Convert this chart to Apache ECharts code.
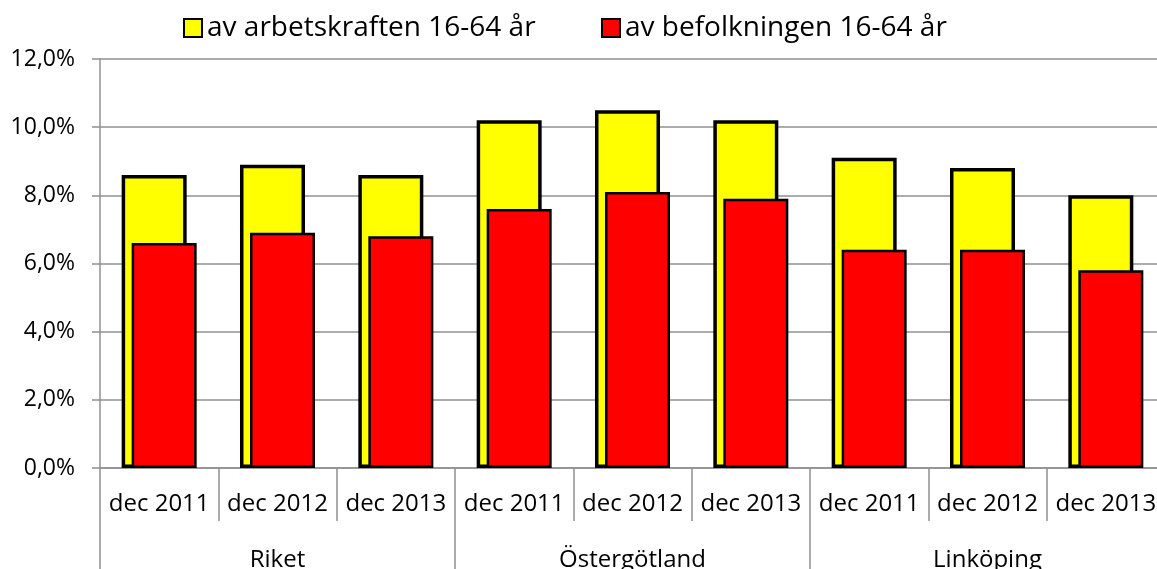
<!DOCTYPE html>
<html>
<head>
<meta charset="utf-8">
<script src="https://cdn.jsdelivr.net/npm/echarts@6/dist/echarts.min.js"></script>
<style>
html,body{margin:0;padding:0;background:#fff;}
#chart{width:1157px;height:569px;}
</style>
</head>
<body>
<div id="chart"></div>
<script>
const categories = ['dec 2011','dec 2012','dec 2013','dec 2011','dec 2012','dec 2013','dec 2011','dec 2012','dec 2013'];
const groups = ['Riket','Östergötland','Linköping'];
const arbetskraften = [8.6, 8.9, 8.6, 10.2, 10.5, 10.2, 9.1, 8.8, 8.0];
const befolkningen = [6.6, 6.9, 6.8, 7.6, 8.1, 7.9, 6.4, 6.4, 5.8];
const yTicks = { min: 0, max: 12, interval: 2 };
const seriesNames = ['av arbetskraften 16-64 år', 'av befolkningen 16-64 år'];

const FONT = 'Open Sans';
const GREY = '#909090';
const chart = echarts.init(document.getElementById('chart'), null, {renderer: 'canvas'});
chart.setOption({
  animation: false,
  backgroundColor: '#ffffff',
  textStyle: { fontFamily: FONT, color: '#000' },
  legend: [
    { data: [seriesNames[0]], left: 183, top: 14, padding: 0, icon: 'rect',
      itemWidth: 18, itemHeight: 18,
      textStyle: { fontFamily: FONT, fontSize: 28, color: '#000' } },
    { data: [seriesNames[1]], left: 601, top: 14, padding: 0, icon: 'rect',
      itemWidth: 18, itemHeight: 18,
      textStyle: { fontFamily: FONT, fontSize: 28, color: '#000' } }
  ],
  grid: { left: 100, top: 59, width: 1065, height: 409, containLabel: false, outerBoundsMode: 'none' },
  xAxis: [
    {
      type: 'category', data: categories, position: 'bottom',
      axisLine: { show: true, lineStyle: { color: GREY, width: 1.5 } },
      axisTick: { show: true, interval: 0, length: 53, lineStyle: { color: GREY, width: 1.5 } },
      axisLabel: { interval: 0, margin: 24, fontFamily: FONT, fontSize: 24, color: '#000' }
    },
    {
      type: 'category', data: groups, position: 'bottom',
      axisLine: { show: false },
      axisTick: { show: true, interval: 0, length: 110, lineStyle: { color: GREY, width: 1.5 } },
      axisLabel: { interval: 0, margin: 80, fontFamily: FONT, fontSize: 24, color: '#000' }
    }
  ],
  yAxis: {
    type: 'value', min: yTicks.min, max: yTicks.max, interval: yTicks.interval,
    axisLine: { show: true, lineStyle: { color: GREY, width: 1.5 } },
    axisTick: { show: true, length: 8, lineStyle: { color: GREY, width: 1.5 } },
    splitLine: { show: true, lineStyle: { color: GREY, width: 1.5 } },
    axisLabel: { margin: 25, fontFamily: FONT, fontSize: 23, color: '#000',
      formatter: v => v.toFixed(1).replace('.', ',') + '%' }
  },
  series: [
    { name: seriesNames[0], type: 'bar', data: arbetskraften, xAxisIndex: 0,
      barWidth: 65, barGap: '-84.6%',
      itemStyle: { color: '#ffff00', borderColor: '#000', borderWidth: 3.5 } },
    { name: seriesNames[1], type: 'bar', data: befolkningen, xAxisIndex: 0,
      barWidth: 65, barGap: '-84.6%',
      itemStyle: { color: '#ff0000', borderColor: '#000', borderWidth: 2.5 } }
  ]
});
</script>
</body>
</html>
